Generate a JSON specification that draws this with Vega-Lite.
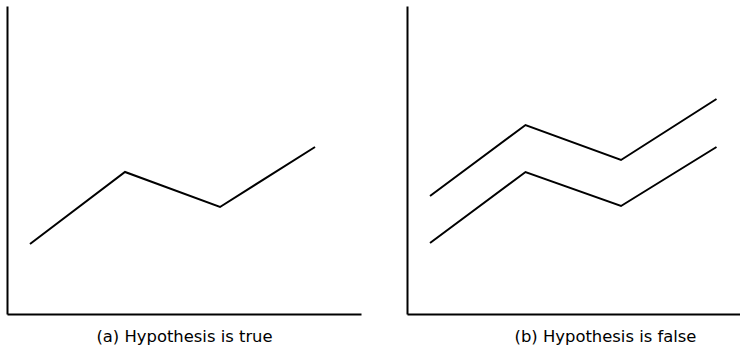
{
  "$schema": "https://vega.github.io/schema/vega-lite/v6.json",
  "background": "white",
  "padding": {"left": 7, "top": 6, "right": 0, "bottom": 0},
  "spacing": 46,
  "config": {
    "view": {"stroke": null},
    "axis": {"domainColor": "black", "domainWidth": 2, "ticks": false, "labels": false, "grid": false,
             "titleFont": "DejaVu Sans", "titleFontSize": 16.4, "titleFontWeight": "normal", "titleColor": "black",
             "titleBaseline": "alphabetic", "titlePadding": 27}
  },
  "datasets": {
    "a": [
      {"x": 1, "y": 70},
      {"x": 2, "y": 142},
      {"x": 3, "y": 107},
      {"x": 4, "y": 167}
    ],
    "b": [
      {"series": "upper", "x": 1, "y": 118},
      {"series": "upper", "x": 2, "y": 189},
      {"series": "upper", "x": 3, "y": 154},
      {"series": "upper", "x": 4, "y": 215},
      {"series": "lower", "x": 1, "y": 71},
      {"series": "lower", "x": 2, "y": 142},
      {"series": "lower", "x": 3, "y": 108},
      {"series": "lower", "x": 4, "y": 167}
    ]
  },
  "hconcat": [
    {
      "width": 354,
      "height": 308,
      "data": {"name": "a"},
      "mark": {"type": "line", "color": "black", "strokeWidth": 2},
      "encoding": {
        "x": {"field": "x", "type": "quantitative", "scale": {"domain": [0.758, 4.484], "nice": false, "zero": false},
              "axis": {"title": "(a) Hypothesis is true"}},
        "y": {"field": "y", "type": "quantitative", "scale": {"domain": [0, 308], "nice": false, "zero": false},
              "axis": {"title": null}}
      }
    },
    {
      "width": 333,
      "height": 308,
      "data": {"name": "b"},
      "mark": {"type": "line", "color": "black", "strokeWidth": 2},
      "encoding": {
        "x": {"field": "x", "type": "quantitative", "scale": {"domain": [0.759, 4.246], "nice": false, "zero": false},
              "axis": {"title": "(b) Hypothesis is false", "titleX": 198, "titleAlign": "center"}},
        "y": {"field": "y", "type": "quantitative", "scale": {"domain": [0, 308], "nice": false, "zero": false},
              "axis": {"title": null}},
        "detail": {"field": "series", "type": "nominal"}
      }
    }
  ]
}
